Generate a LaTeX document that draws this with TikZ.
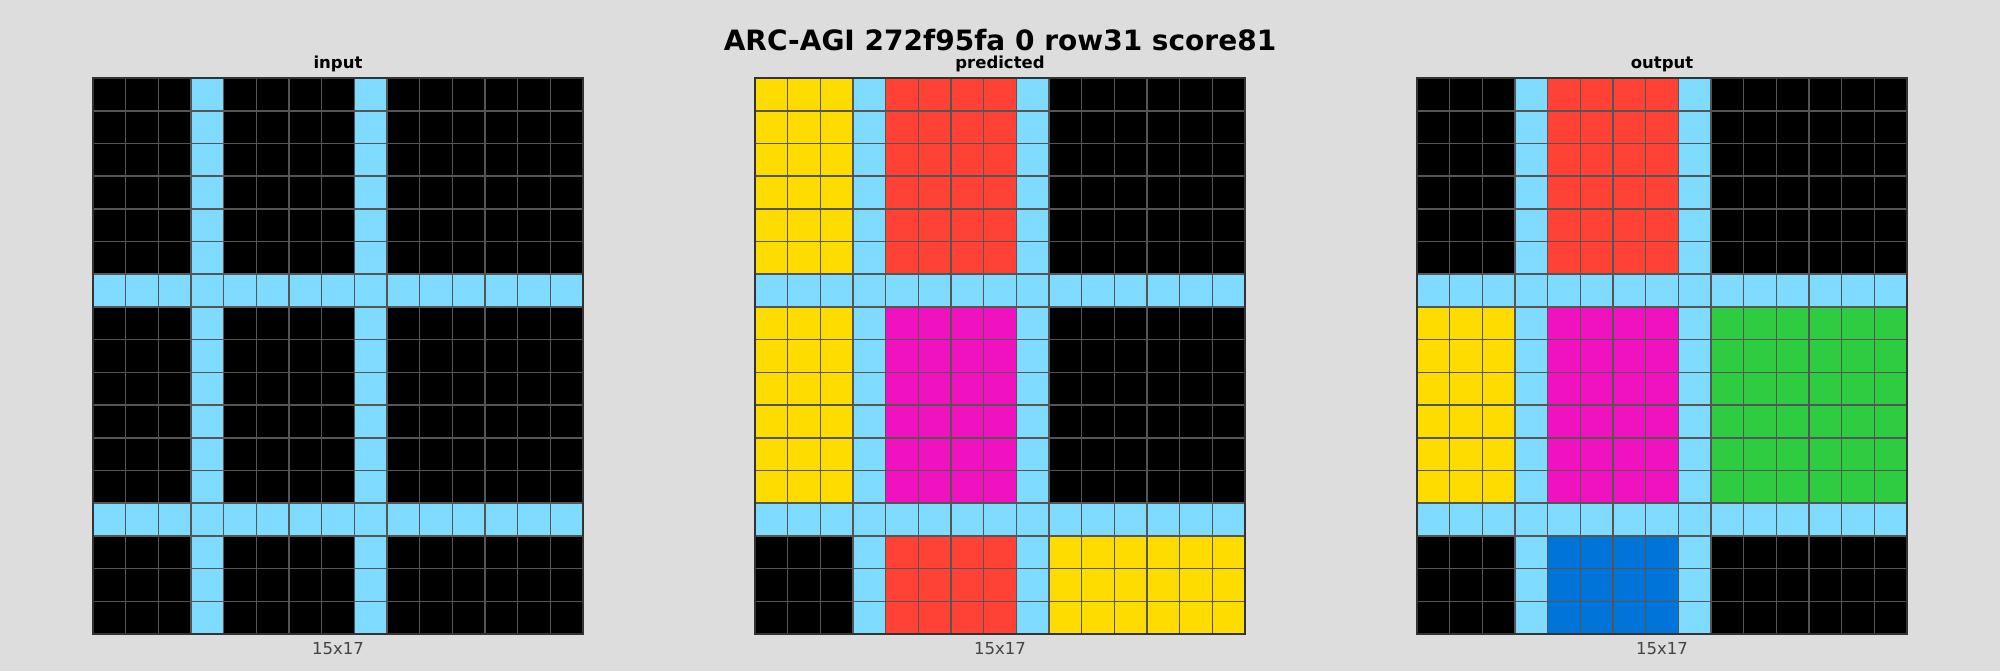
\documentclass[tikz,border=0pt]{standalone}
\usepackage{fontspec}
\setmainfont{DejaVu Sans}
\definecolor{bg}{HTML}{DDDDDD}
\definecolor{arcblack}{HTML}{000000}
\definecolor{arcazure}{HTML}{7FDBFF}
\definecolor{arcred}{HTML}{FF4136}
\definecolor{arcyellow}{HTML}{FFDC00}
\definecolor{arcmagenta}{HTML}{F012BE}
\definecolor{arcgreen}{HTML}{2ECC40}
\definecolor{arcblue}{HTML}{0074D9}
\definecolor{gridline}{HTML}{555555}
\definecolor{labelgrey}{HTML}{444444}
\tikzset{
  titletext/.style={font=\bfseries\fontsize{28}{28}\selectfont, text=black, inner sep=0pt},
  subtitletext/.style={font=\bfseries\fontsize{16.5}{16.5}\selectfont, text=black, inner sep=0pt},
  sizetext/.style={font=\fontsize{16.5}{16.5}\selectfont, text=labelgrey, inner sep=0pt},
  gridframe/.style={x=32.667pt, y=-32.706pt},
  cellgrid/.style={draw=gridline, line width=1.6pt},
  gridborder/.style={draw=black!80, line width=1.6pt}
}
% \arcregion{c0}{c1}{r0}{r1}{colour}
\newcommand{\arcregion}[5]{\fill[#5] (#1,#3) rectangle (#2+1,#4+1);}
\newcommand{\arclines}{%
  \fill[arcazure] (3,0) rectangle (4,17);
  \fill[arcazure] (8,0) rectangle (9,17);
  \fill[arcazure] (0,6) rectangle (15,7);
  \fill[arcazure] (0,13) rectangle (15,14);
  \foreach \cc in {1,...,14} {\draw[cellgrid] (\cc,0) -- (\cc,17);}
  \foreach \rr in {1,...,16} {\draw[cellgrid] (0,\rr) -- (15,\rr);}
  \draw[gridborder] (0,0) rectangle (15,17);
}
\begin{document}
\begin{tikzpicture}
\useasboundingbox (0pt,0pt) rectangle (2000pt,-671pt);
\fill[bg] (0pt,0pt) rectangle (2000pt,-671pt);

\node[titletext] (title) at (1000pt,-40pt) {ARC-AGI 272f95fa 0 row31 score81};

% input grid
\begin{scope}[xshift=93pt, yshift=-78pt, gridframe]
  \fill[arcblack] (0,0) rectangle (15,17);
  \arclines
  \coordinate (inN) at (7.5,0);
  \coordinate (inS) at (7.5,17);
\end{scope}
\node[subtitletext, anchor=base] (inputlabel) at ([yshift=9pt]inN) {input};
\node[sizetext, anchor=base] (inputsize) at ([yshift=-20pt]inS) {15x17};

% predicted grid
\begin{scope}[xshift=755pt, yshift=-78pt, gridframe]
  \fill[arcblack] (0,0) rectangle (15,17);
  \arcregion{0}{2}{0}{5}{arcyellow}
  \arcregion{4}{7}{0}{5}{arcred}
  \arcregion{0}{2}{7}{12}{arcyellow}
  \arcregion{4}{7}{7}{12}{arcmagenta}
  \arcregion{4}{7}{14}{16}{arcred}
  \arcregion{9}{14}{14}{16}{arcyellow}
  \arclines
  \coordinate (prN) at (7.5,0);
  \coordinate (prS) at (7.5,17);
\end{scope}
\node[subtitletext, anchor=base] (predlabel) at ([yshift=9pt]prN) {predicted};
\node[sizetext, anchor=base] (predsize) at ([yshift=-20pt]prS) {15x17};

% output grid
\begin{scope}[xshift=1417pt, yshift=-78pt, gridframe]
  \fill[arcblack] (0,0) rectangle (15,17);
  \arcregion{4}{7}{0}{5}{arcred}
  \arcregion{0}{2}{7}{12}{arcyellow}
  \arcregion{4}{7}{7}{12}{arcmagenta}
  \arcregion{9}{14}{7}{12}{arcgreen}
  \arcregion{4}{7}{14}{16}{arcblue}
  \arclines
  \coordinate (outN) at (7.5,0);
  \coordinate (outS) at (7.5,17);
\end{scope}
\node[subtitletext, anchor=base] (outlabel) at ([yshift=9pt]outN) {output};
\node[sizetext, anchor=base] (outsize) at ([yshift=-20pt]outS) {15x17};
\end{tikzpicture}
\end{document}
